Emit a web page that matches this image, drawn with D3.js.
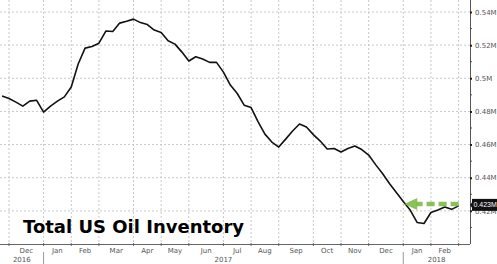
<!DOCTYPE html>
<html>
<head>
<meta charset="utf-8">
<script src="https://cdn.jsdelivr.net/npm/d3@7"></script>
<style>
	body { margin: 0; background: #fff; }
	svg { display: block; }
</style>
</head>
<body>
<script>
// weekly readings, first one on 25 Nov 2016
const startDate = "2016-11-25";
const inventory = [
	0.4893, 0.4878, 0.4856, 0.4832, 0.4862, 0.4867, 0.4796, 0.4832, 0.4862, 0.4888,
	0.4947, 0.5086, 0.5182, 0.5192, 0.5212, 0.5285, 0.5282, 0.5333, 0.5344, 0.5357,
	0.5336, 0.5324, 0.5291, 0.5276, 0.5227, 0.5206, 0.5158, 0.5104, 0.513, 0.5116,
	0.5096, 0.5096, 0.5037, 0.4959, 0.4908, 0.4838, 0.4823, 0.4739, 0.4663, 0.4615,
	0.4585, 0.4633, 0.4682, 0.4724, 0.4706, 0.466, 0.4621, 0.4573, 0.4576, 0.4555,
	0.4576, 0.4591, 0.457, 0.4537, 0.4479, 0.4425, 0.4365, 0.4311, 0.4256, 0.4205,
	0.413, 0.4124, 0.419, 0.4205, 0.4223, 0.4209, 0.423
];
const yTicks = [0.42, 0.44, 0.46, 0.48, 0.5, 0.52, 0.54];
const monthNames = ["Jan", "Feb", "Mar", "Apr", "May", "Jun", "Jul", "Aug", "Sep", "Oct", "Nov", "Dec"];
const years = [2016, 2017, 2018];
const title = "Total US Oil Inventory";
const lastLabel = "0.423M";

const width = 497, height = 264;
const axisX = 470, axisY = 244;
const labelFont = "DejaVu Sans";

const t0 = new Date(startDate + "T00:00:00Z");
const data = inventory.map((v, i) => ({ date: d3.utcDay.offset(t0, i * 7), value: v }));

const x = d3.scaleUtc()
	.domain([new Date("2016-12-02T00:00:00Z"), new Date("2018-03-02T00:00:00Z")])
	.range([9, 458.6]);
const y = d3.scaleLinear().domain([0.4, 0.54]).range([axisY, 12]);

const svg = d3.select("body").append("svg")
	.attr("width", width)
	.attr("height", height);

// first reading of each month -> grid positions
const monthStarts = data
	.filter((d, i) => i > 0 && d.date.getUTCMonth() != data[i - 1].date.getUTCMonth())
	.map((d) => d.date);
const gridX = monthStarts.map((d) => x(d));

const grid = svg.append("g").attr("stroke", "#c8c8c8").attr("stroke-dasharray", "2,2");
grid.selectAll("line.v")
	.data(gridX)
	.enter()
	.append("line")
	.attr("x1", (d) => d).attr("x2", (d) => d)
	.attr("y1", 0).attr("y2", axisY);
grid.selectAll("line.h")
	.data(yTicks)
	.enter()
	.append("line")
	.attr("x1", 0).attr("x2", axisX)
	.attr("y1", (d) => y(d)).attr("y2", (d) => y(d));

// title
svg.append("text")
	.attr("x", 23)
	.attr("y", 233)
	.attr("font-family", "DejaVu Sans")
	.attr("font-weight", "bold")
	.attr("font-size", 18)
	.attr("fill", "#000")
	.text(title);

// bottom axis
svg.append("line")
	.attr("x1", 0).attr("x2", axisX)
	.attr("y1", axisY + 0.5).attr("y2", axisY + 0.5)
	.attr("stroke", "#666");
svg.append("g").selectAll("line")
	.data(gridX)
	.enter()
	.append("line")
	.attr("x1", (d) => d).attr("x2", (d) => d)
	.attr("y1", axisY - 1).attr("y2", axisY + 2)
	.attr("stroke", "#666");

const monthLabels = monthStarts.slice(0, -1).map((d, i) => ({
	name: monthNames[d.getUTCMonth()],
	mid: (gridX[i] + gridX[i + 1]) / 2
}));
svg.append("g").selectAll("text")
	.data(monthLabels)
	.enter()
	.append("text")
	.attr("x", (d) => d.mid)
	.attr("y", 253)
	.attr("text-anchor", "middle")
	.attr("font-family", labelFont)
	.attr("font-size", 7)
	.attr("fill", "#555")
	.text((d) => d.name);

// years
const yearBreaks = monthStarts.filter((d) => d.getUTCMonth() == 0).map((d) => x(d));
const yearBounds = [0].concat(yearBreaks).concat([axisX]);
svg.append("g").selectAll("text")
	.data(years)
	.enter()
	.append("text")
	.attr("x", (d, i) => (yearBounds[i] + yearBounds[i + 1]) / 2)
	.attr("y", 262)
	.attr("text-anchor", "middle")
	.attr("font-family", labelFont)
	.attr("font-size", 7)
	.attr("fill", "#555")
	.text((d) => d);
svg.append("g").selectAll("line")
	.data(yearBreaks)
	.enter()
	.append("line")
	.attr("x1", (d) => d).attr("x2", (d) => d)
	.attr("y1", 252).attr("y2", 264)
	.attr("stroke", "#999");

// right axis
const yAxis = d3.axisRight(y)
	.tickValues(yTicks)
	.tickSize(2)
	.tickPadding(3)
	.tickFormat((d) => +d.toFixed(2) + "M");
const ga = svg.append("g")
	.attr("transform", `translate(${axisX},0)`)
	.call(yAxis);
ga.select(".domain").attr("stroke", "#555").attr("d", `M0.5,0V${axisY}`);
ga.selectAll(".tick line").attr("stroke", "#222").attr("stroke-width", 2);
ga.selectAll(".tick text")
	.attr("font-family", labelFont)
	.attr("font-size", 7)
	.attr("fill", "#555");
svg.append("g").selectAll("line")
	.data(d3.range(0.41, 0.54, 0.02))
	.enter()
	.append("line")
	.attr("x1", axisX).attr("x2", axisX + 2)
	.attr("y1", (d) => y(d)).attr("y2", (d) => y(d))
	.attr("stroke", "#555");

// series
const line = d3.line()
	.x((d) => x(d.date))
	.y((d) => y(d.value));
svg.append("path")
	.datum(data)
	.attr("fill", "none")
	.attr("stroke", "#111")
	.attr("stroke-width", 1.6)
	.attr("stroke-linejoin", "round")
	.attr("d", line);

// green arrow back to early January
const last = data[data.length - 1];
const arrowY = y(last.value) - 2;
const arrowTip = x(data[58].date) + 1;
svg.append("line")
	.attr("x1", x(last.date)).attr("x2", arrowTip + 12)
	.attr("y1", arrowY).attr("y2", arrowY)
	.attr("stroke", "#7dbb42")
	.attr("stroke-width", 4.5)
	.attr("stroke-dasharray", "8,4")
	.attr("opacity", 0.9);
svg.append("path")
	.attr("d", `M${arrowTip},${arrowY}L${arrowTip + 13},${arrowY - 6}L${arrowTip + 13},${arrowY + 6}Z`)
	.attr("fill", "#7dbb42")
	.attr("opacity", 0.9);

// last value box
const boxY = y(last.value) - 1;
svg.append("rect")
	.attr("x", axisX + 2)
	.attr("y", boxY - 6)
	.attr("width", width - axisX - 2)
	.attr("height", 12)
	.attr("fill", "#111");
svg.append("path")
	.attr("d", `M${axisX},${boxY}L${axisX + 3},${boxY - 4}L${axisX + 3},${boxY + 4}Z`)
	.attr("fill", "#111");
svg.append("text")
	.attr("x", axisX + 3.5)
	.attr("y", boxY + 2.5)
	.attr("font-family", "Liberation Sans")
	.attr("font-size", 7)
	.attr("fill", "#fff")
	.text(lastLabel);
</script>
</body>
</html>
